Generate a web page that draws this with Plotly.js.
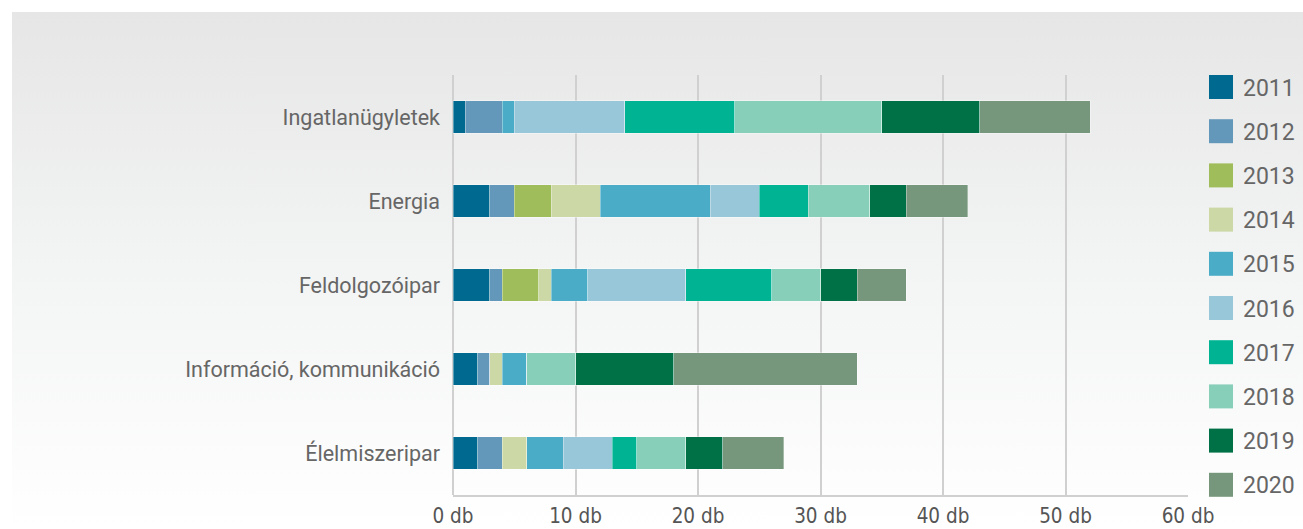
<!DOCTYPE html>
<html>
<head>
<meta charset="utf-8">
<script src="https://cdn.plot.ly/plotly-3.0.1.min.js"></script>
<style>
  html, body { margin: 0; padding: 0; background: #ffffff; }
  #wrap { position: relative; width: 1303px; height: 529px; overflow: hidden; }
  #bg { position: absolute; left: 12px; top: 12px; right: 0; bottom: 0;
        background: linear-gradient(to bottom, #e6e6e6 0%, #f3f4f4 50%, #ffffff 100%); }
  #chart { position: absolute; left: 0; top: 0; width: 1303px; height: 529px; }
</style>
</head>
<body>
<div id="wrap"><div id="bg"></div><div id="chart"></div></div>
<script>
const categories = ["Ingatlanügyletek", "Energia", "Feldolgozóipar", "Információ, kommunikáció", "Élelmiszeripar"];
const years = ["2011", "2012", "2013", "2014", "2015", "2016", "2017", "2018", "2019", "2020"];
const colors = ["#00698f", "#6398ba", "#a0bd5b", "#ccd8a6", "#4aacc7", "#97c7d9", "#00b493", "#88cfba", "#007047", "#76977b"];
// counts per category (same order as categories), one array per year
const v2011 = [1, 3, 3, 2, 2];
const v2012 = [3, 2, 1, 1, 2];
const v2013 = [0, 3, 3, 0, 0];
const v2014 = [0, 4, 1, 1, 2];
const v2015 = [1, 9, 3, 2, 3];
const v2016 = [9, 4, 8, 0, 4];
const v2017 = [9, 4, 7, 0, 2];
const v2018 = [12, 5, 4, 4, 4];
const v2019 = [8, 3, 3, 8, 3];
const v2020 = [9, 5, 4, 15, 5];
const xTicks = [0, 10, 20, 30, 40, 50, 60];

const series = [v2011, v2012, v2013, v2014, v2015, v2016, v2017, v2018, v2019, v2020];

const W = 1303, H = 529;
const M = { l: 453, r: 115, t: 75, b: 34 };
const pw = W - M.l - M.r, ph = H - M.t - M.b;
const px = x => (x - M.l) / pw;
const py = y => (H - M.b - y) / ph;

const traces = series.map((vals, i) => ({
  type: "bar",
  orientation: "h",
  name: years[i],
  y: categories,
  x: vals,
  marker: { color: colors[i], line: { color: "rgba(255,255,255,0.35)", width: 1 } },
  hoverinfo: "name+x",
  showlegend: false
}));

const shapes = [];
const annotations = [];
years.forEach((yr, i) => {
  const cy = 87 + i * 44.2;
  shapes.push({
    type: "rect", xref: "paper", yref: "paper",
    x0: px(1209), x1: px(1233), y0: py(cy + 12), y1: py(cy - 12),
    fillcolor: colors[i], line: { width: 0 }
  });
  annotations.push({
    xref: "paper", yref: "paper", x: px(1241), y: py(cy + 1),
    xanchor: "left", yanchor: "middle", showarrow: false,
    text: yr, font: { family: "Roboto, sans-serif", size: 23, color: "#666666" }
  });
});

const layout = {
  width: W, height: H,
  margin: M,
  paper_bgcolor: "rgba(0,0,0,0)",
  plot_bgcolor: "rgba(0,0,0,0)",
  barmode: "stack",
  bargap: 0.61,
  showlegend: false,
  xaxis: {
    range: [0, 60],
    tickvals: xTicks,
    ticktext: xTicks.map(t => t + " db"),
    showgrid: true, gridcolor: "#d0d0d0", gridwidth: 2,
    zeroline: true, zerolinecolor: "#d0d0d0", zerolinewidth: 2,
    showline: true, linecolor: "#d0d0d0", linewidth: 2,
    ticks: "", ticklabelstandoff: 1,
    tickfont: { family: "'Liberation Sans Narrow', 'DejaVu Sans Condensed', sans-serif", size: 20.5, color: "#555555" },
    fixedrange: true
  },
  yaxis: {
    autorange: "reversed",
    showgrid: false, zeroline: false, showline: false,
    ticks: "", ticklabelstandoff: 12,
    tickfont: { family: "Roboto, sans-serif", size: 21.5, color: "#666666" },
    fixedrange: true
  },
  shapes: shapes,
  annotations: annotations
};

Plotly.newPlot("chart", traces, layout, { displayModeBar: false, staticPlot: true });
</script>
</body>
</html>
